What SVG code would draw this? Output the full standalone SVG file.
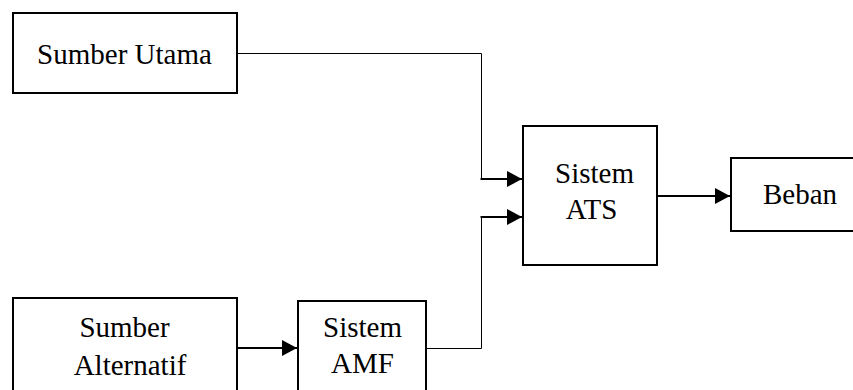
<svg xmlns="http://www.w3.org/2000/svg" width="853" height="390" viewBox="0 0 853 390">
<style>
.box{fill:#fff;stroke:#000;stroke-width:2}
.lbl{font-family:"Liberation Serif","Times New Roman",serif;font-size:29px;fill:#000;text-anchor:middle}
.thin{fill:none;stroke:#000;stroke-width:1}
.thick{fill:none;stroke:#000;stroke-width:2}
</style>
<defs>
<marker id="arr" markerUnits="userSpaceOnUse" markerWidth="16" markerHeight="16" refX="15" refY="8" orient="auto">
<path d="M0,0 L15,8 L0,16 Z" fill="#000"/>
</marker>
</defs>
<rect width="853" height="390" fill="#fff"/>
<g id="connectors">
<path class="thin" d="M237,53.5 H481.5 V179"/>
<path class="thick" d="M480.5,179 H522" marker-end="url(#arr)"/>
<path class="thin" d="M426,348.5 H481.5 V217"/>
<path class="thick" d="M480.5,217 H522" marker-end="url(#arr)"/>
<path class="thick" d="M237,348 H297" marker-end="url(#arr)"/>
<path class="thick" d="M657,196 H730" marker-end="url(#arr)"/>
</g>
<g id="sumber-utama">
<rect class="box" x="13" y="13" width="224" height="80"/>
<text class="lbl" x="124.5" y="64">Sumber Utama</text>
</g>
<g id="sistem-ats">
<rect class="box" x="523" y="126" width="134" height="139"/>
<text class="lbl" x="594.5" y="183">Sistem</text>
<text class="lbl" x="591.5" y="219">ATS</text>
</g>
<g id="beban">
<rect class="box" x="731" y="158" width="140" height="73"/>
<text class="lbl" x="800" y="204">Beban</text>
</g>
<g id="sumber-alternatif">
<rect class="box" x="13" y="298" width="224" height="120"/>
<text class="lbl" x="124.5" y="337">Sumber</text>
<text class="lbl" x="130" y="375">Alternatif</text>
</g>
<g id="sistem-amf">
<rect class="box" x="298" y="301" width="128" height="120"/>
<text class="lbl" x="362.5" y="337">Sistem</text>
<text class="lbl" x="362.5" y="373">AMF</text>
</g>
</svg>
